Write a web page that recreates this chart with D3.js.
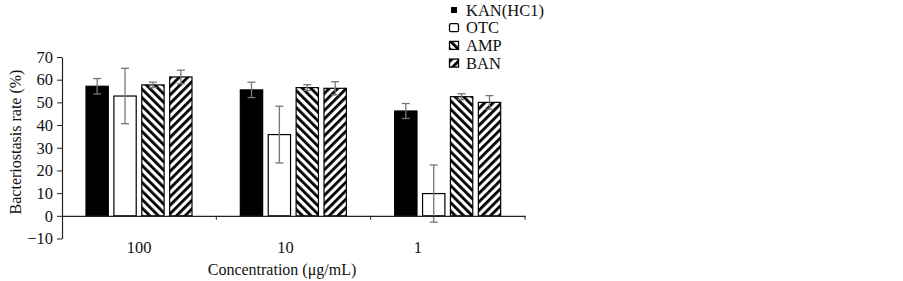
<!DOCTYPE html>
<html><head><meta charset="utf-8">
<script src="https://cdn.jsdelivr.net/npm/d3@7"></script>
<style>body{margin:0;background:#fff}svg{display:block}text{font-family:"Liberation Serif","Times New Roman",serif}</style>
</head><body><svg id="c" width="903" height="281"></svg>
<script>
const categories = ["100", "10", "1"];
const seriesNames = ["KAN(HC1)", "OTC", "AMP", "BAN"];
const kan = [57.1, 55.5, 46.2];
const kanErr = [3.4, 3.4, 3.3];
const otc = [52.8, 35.8, 9.8];
const otcErr = [12.2, 12.5, 12.6];
const amp = [57.7, 56.5, 52.5];
const ampErr = [1.2, 1.3, 1.3];
const ban = [61.2, 56.2, 50.0];
const banErr = [3.0, 2.9, 3.0];
const yTicks = [-10, 0, 10, 20, 30, 40, 50, 60, 70];

const values = [kan, otc, amp, ban];
const errs = [kanErr, otcErr, ampErr, banErr];

const svg = d3.select("#c");
const defs = svg.append("defs");
function hatch(id, dir) {
  const p = defs.append("pattern").attr("id", id).attr("patternUnits", "userSpaceOnUse")
    .attr("width", 6).attr("height", 6)
    .attr("patternTransform", "rotate(" + (dir > 0 ? 45 : -45) + ")");
  p.append("rect").attr("width", 6).attr("height", 6).attr("fill", "#fff");
  p.append("rect").attr("x", 0).attr("y", 0).attr("width", 2.8).attr("height", 6).attr("fill", "#000");
}
hatch("hAmp", -1);
hatch("hBan", 1);
const fills = ["#000", "#fff", "url(#hAmp)", "url(#hBan)"];

const x0 = d3.scaleBand().domain(categories).range([62, 525]).padding(0);
const x1 = d3.scaleBand().domain(seriesNames).range([24, 130]).paddingInner(0.2);
const y = d3.scaleLinear().domain([-10, 70]).range([238.5, 57]);

// bars
categories.forEach((c, ci) => {
  seriesNames.forEach((s, si) => {
    const v = values[si][ci];
    const bx = x0(c) + x1(s);
    svg.append("rect").attr("x", bx).attr("y", y(v)).attr("width", x1.bandwidth())
      .attr("height", y(0) - y(v)).attr("fill", fills[si]).attr("stroke", "#000").attr("stroke-width", 1.2);
  });
});
// error bars
categories.forEach((c, ci) => {
  seriesNames.forEach((s, si) => {
    const v = values[si][ci], e = errs[si][ci];
    const cx = x0(c) + x1(s) + x1.bandwidth() / 2;
    const g = svg.append("g").attr("stroke", "#777").attr("stroke-width", 1.3);
    g.append("line").attr("x1", cx).attr("x2", cx).attr("y1", y(v + e)).attr("y2", y(v - e));
    g.append("line").attr("x1", cx - 4).attr("x2", cx + 4).attr("y1", y(v + e)).attr("y2", y(v + e));
    g.append("line").attr("x1", cx - 4).attr("x2", cx + 4).attr("y1", y(v - e)).attr("y2", y(v - e));
  });
});

// y axis
const ya = svg.append("g").attr("transform", "translate(62,0)")
  .call(d3.axisLeft(y).tickValues(yTicks).tickSize(5).tickSizeOuter(0).tickFormat(d => d < 0 ? "\u2212" + Math.abs(d) : d));
ya.select(".domain").attr("stroke", "#222").attr("stroke-width", 1.2);
ya.selectAll(".tick line").attr("stroke", "#222");
ya.selectAll("text").attr("font-size", 16.5).attr("fill", "#111").attr("dx", -1)
  .attr("font-family", "Liberation Serif");

// x axis at zero
const xa = svg.append("g").attr("transform", "translate(0," + y(0) + ")")
  .call(d3.axisBottom(x0).tickSize(4).tickSizeOuter(0).tickFormat(""));
xa.select(".domain").attr("stroke", "#222").attr("stroke-width", 1.2);
xa.selectAll(".tick line").attr("transform", "translate(" + (x0.bandwidth() / 2) + ",0)").attr("stroke", "#222");
// category labels
const labelShift = [0, -8, -30];
categories.forEach((c, ci) => {
  svg.append("text").attr("x", x0(c) + x0.bandwidth() / 2 + labelShift[ci]).attr("y", 253)
    .attr("text-anchor", "middle").attr("font-size", 16.5).attr("fill", "#111").text(c);
});

// titles
svg.append("text").attr("transform", "translate(21,142) rotate(-90)").attr("text-anchor", "middle")
  .attr("font-size", 16).attr("fill", "#111").text("Bacteriostasis rate (%)");
svg.append("text").attr("x", 282).attr("y", 275).attr("text-anchor", "middle")
  .attr("font-size", 16).attr("fill", "#111").text("Concentration (\u03bcg/mL)");

// legend
seriesNames.forEach((s, i) => {
  const ly = 10 + i * 17.7;
  if (i === 0) {
    svg.append("rect").attr("x", 451).attr("y", ly - 3).attr("width", 6).attr("height", 6).attr("fill", "#000");
  } else {
    svg.append("rect").attr("x", 449.5).attr("y", ly - 4).attr("width", 9).attr("height", 8)
      .attr("rx", i === 1 ? 1.5 : 0).attr("fill", fills[i]).attr("stroke", "#000").attr("stroke-width", 1.3);
  }
  svg.append("text").attr("x", 466).attr("y", ly + 5.5).attr("font-size", 16.5).attr("fill", "#111").text(s);
});
</script></body></html>
